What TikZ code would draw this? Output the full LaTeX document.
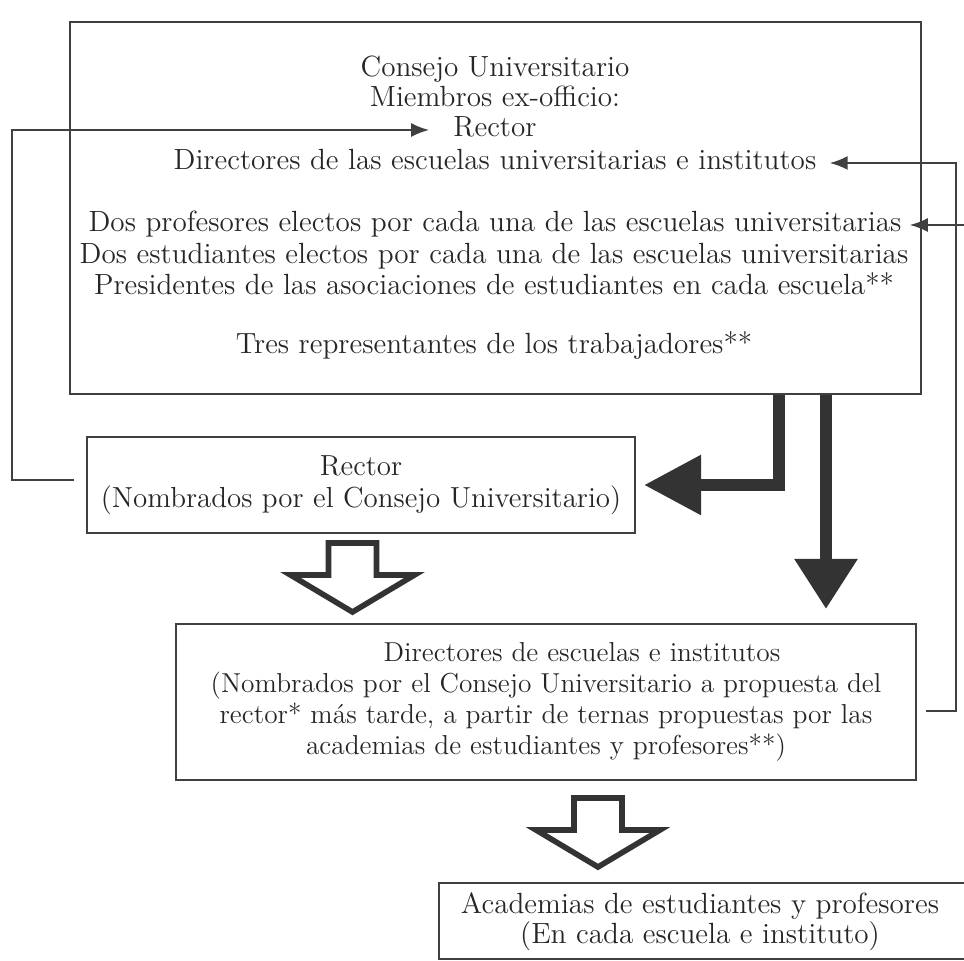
\documentclass[tikz,border=0pt]{standalone}
\usetikzlibrary{arrows.meta,fit,positioning}

\begin{document}
\begin{tikzpicture}[%
	x=0.5pt, y=-0.5pt,
	every node/.style = {text=black!85},
	frame/.style = {draw=black!75, line width=1pt, inner sep=0pt},
	txt/.style = {inner sep=2pt, text height=9.5pt, text depth=3pt, font=\fontsize{14.6pt}{15pt}\selectfont},
	box/.style = {draw=black!75, line width=1pt, align=center, font=\fontsize{14.5pt}{16pt}\selectfont},
	feed/.style = {draw=black!75, line width=1pt, -{Latex[length=9pt,width=7pt]}},
	bigarrow/.style = {draw=black!80, line width=6pt},
	hollow/.pic = {\draw[draw=black!80, line width=2.8pt, fill=white, line join=miter]
		(-24,0) -- (24,0) -- (24,32) -- (62,32) -- (0,69) -- (-62,32) -- (-24,32) -- cycle;}
	]
  \useasboundingbox (0,0) rectangle (964,961);
  \clip (0,0) rectangle (964,961);

  % council
  \node [frame, fit={(70,22) (921,394)}] (cons) {};
  \node [txt] (cu) at (495,70) {Consejo Universitario};
  \node [txt] (mb) at (495,100) {Miembros ex-officio:};
  \node [txt] (rct) at (495,130) {Rector};
  \node [txt] (dlei) at (495,163) {Directores de las escuelas universitarias e institutos};
  \node [txt] (dp) at (495,225) {Dos profesores electos por cada una de las escuelas universitarias};
  \node [txt] (de) at (494,257) {Dos estudiantes electos por cada una de las escuelas universitarias};
  \node [txt] (pr) at (494,288) {Presidentes de las asociaciones de estudiantes en cada escuela**};
  \node [txt] (tr) at (494,347) {Tres representantes de los trabajadores**};

  % rector, directors, academies
  \node [box, minimum width=274pt, minimum height=48pt] (rec) at (361,485)
  	{Rector\\(Nombrados por el Consejo Universitario)};
  \node [box, minimum width=370pt, minimum height=78pt, font=\fontsize{13.7pt}{15.5pt}\selectfont] (dir) at (546,702)
  	{\hspace*{36pt}Directores de escuelas e institutos\\
  	 (Nombrados por el Consejo Universitario a propuesta del\\
  	 rector* más tarde, a partir de ternas propuestas por las\\
  	 academias de estudiantes y profesores**)};
  \node [frame, fit={(439,883) (985,959)}] (acad) {};
  \node [box, draw=none, font=\fontsize{14.6pt}{15pt}\selectfont] (acadt) at (700,922)
  	{Academias de estudiantes y profesores\\(En cada escuela e instituto)};

  % thin feedback lines
  \draw [feed, shorten >=10pt] ([xshift=-6pt,yshift=2.5pt]rec.west) -- ++(-31pt,0) |- (rct.west);
  \draw [feed, shorten >=4.5pt] ([xshift=4.5pt,yshift=-4.5pt]dir.east) -- ++(15pt,0) |- (dlei.east);
  \draw [feed, shorten >=2pt] ([xshift=5pt]acad.east) -- ++(8pt,0) |- (dp.east);

  % thick arrows
  \coordinate (xa) at (779,0);
  \coordinate (xb) at (826,0);
  \draw [bigarrow, -{Triangle[length=28.5pt,width=28.5pt]}, shorten >=4pt] (xa |- cons.south) |- (rec.east);
  \draw [bigarrow, -{Triangle[length=25pt,width=30pt]}, shorten >=7pt] (xb |- cons.south) -- (xb |- dir.north);

  % open arrows
  \pic at (352.5,543) {hollow};
  \pic at (598,798) {hollow};
\end{tikzpicture}
\end{document}
